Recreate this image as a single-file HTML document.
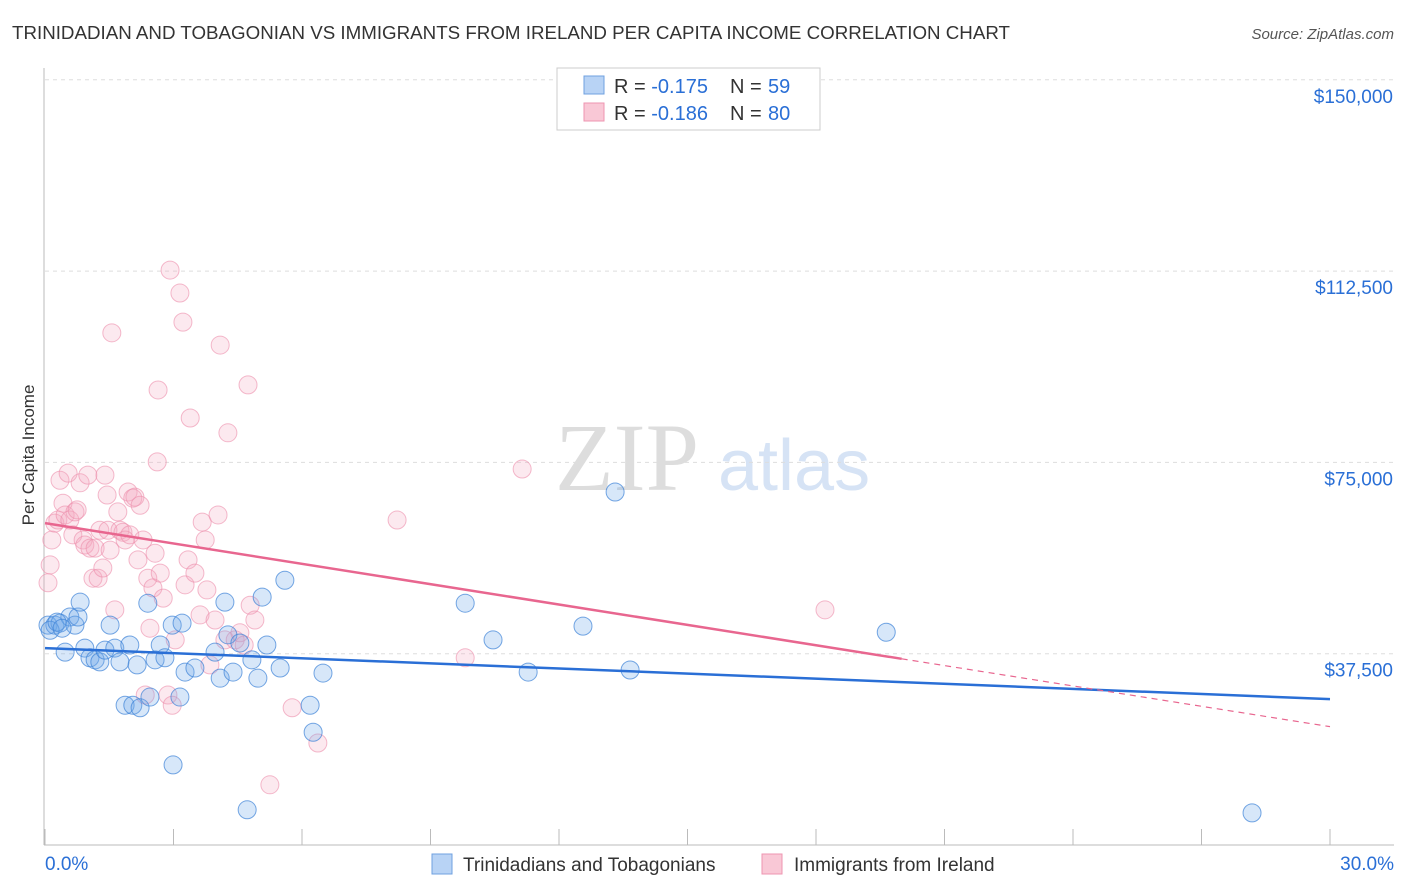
<!DOCTYPE html>
<html><head><meta charset="utf-8"><style>
body{margin:0;background:#fff;font-family:"Liberation Sans",sans-serif;}
#wrap{position:relative;width:1406px;height:892px;overflow:hidden;}
</style></head><body>
<div id="wrap">
<svg id="svg" width="1406" height="892" xmlns="http://www.w3.org/2000/svg">
<text x="12" y="39" font-size="18" fill="#333" textLength="998" lengthAdjust="spacingAndGlyphs">TRINIDADIAN AND TOBAGONIAN VS IMMIGRANTS FROM IRELAND PER CAPITA INCOME CORRELATION CHART</text>
<text x="1394" y="39" font-size="15" fill="#555" font-style="italic" text-anchor="end">Source: ZipAtlas.com</text>
<text x="34" y="455" font-size="17" fill="#333" text-anchor="middle" transform="rotate(-90 34 455)">Per Capita Income</text>
<text x="555" y="490" font-size="96" fill="#ddd" font-family="Liberation Serif,serif">ZIP</text>
<text x="718" y="490" font-size="72" fill="#d6e3f5">atlas</text>
<g id="grid"></g><g id="axes"></g><g id="pts"></g><g id="lines"></g>
<g>
<rect x="557" y="68" width="263" height="62" fill="#fff" stroke="#ccc"/>
<rect x="584" y="76" width="20" height="18" fill="#b8d3f5" stroke="#6fa0e0"/>
<text x="614" y="93" font-size="20" fill="#333">R = <tspan fill="#2a6fd6">-0.175</tspan></text>
<text x="730" y="93" font-size="20" fill="#333">N = <tspan fill="#2a6fd6" x="768">59</tspan></text>
<rect x="584" y="103" width="20" height="18" fill="#f9c8d6" stroke="#ee95b0"/>
<text x="614" y="120" font-size="20" fill="#333">R = <tspan fill="#2a6fd6">-0.186</tspan></text>
<text x="730" y="120" font-size="20" fill="#333">N = <tspan fill="#2a6fd6" x="768">80</tspan></text>
</g>
<g>
<rect x="432" y="854" width="20" height="20" fill="#b8d3f5" stroke="#6fa0e0"/>
<text x="463" y="871" font-size="19" fill="#333">Trinidadians and Tobagonians</text>
<rect x="762" y="854" width="20" height="20" fill="#f9c8d6" stroke="#ee95b0"/>
<text x="794" y="871" font-size="19" fill="#333">Immigrants from Ireland</text>
</g>
</svg></div>
<script>
const blueX=[0.07,0.23,0.35,0.47,0.58,0.70,0.77,0.82,0.93,1.05,1.17,1.28,1.40,1.52,1.63,1.75,1.87,1.98,2.05,2.15,2.22,2.40,2.45,2.57,2.69,2.80,2.97,2.99,3.15,3.20,3.27,3.50,3.97,4.09,4.20,4.27,4.39,4.55,4.72,4.83,4.97,5.07,5.18,5.49,5.60,6.19,6.26,6.49,9.81,10.46,11.28,12.56,13.31,13.66,19.64,28.18,0.12,0.28,0.40];
const blueY=[43.1,43.1,43.5,37.8,44.7,43.1,44.7,47.6,38.6,36.7,36.3,35.9,38.2,43.1,38.6,35.9,27.4,39.2,27.4,35.3,26.9,47.4,29.0,36.3,39.2,36.7,43.1,15.7,29.0,43.5,33.9,34.7,37.8,32.7,47.6,41.2,33.9,39.6,6.9,36.3,32.7,48.6,39.2,34.7,51.9,27.4,22.1,33.7,47.4,40.2,33.9,42.9,69.2,34.3,41.7,6.3,42.1,43.7,42.5];
const pinkX=[0.07,0.12,0.16,0.23,0.30,0.35,0.42,0.47,0.54,0.58,0.65,0.70,0.75,0.82,0.89,0.93,1.00,1.05,1.12,1.17,1.24,1.28,1.35,1.40,1.45,1.47,1.52,1.56,1.63,1.70,1.75,1.82,1.87,1.94,1.98,2.05,2.10,2.17,2.22,2.29,2.34,2.40,2.45,2.52,2.57,2.62,2.64,2.69,2.76,2.87,2.92,2.97,3.04,3.15,3.22,3.27,3.34,3.39,3.50,3.62,3.67,3.74,3.78,3.85,3.97,4.04,4.09,4.20,4.27,4.44,4.55,4.65,4.74,4.79,4.90,5.25,5.77,6.37,8.22,9.81,11.14,18.21];
const pinkY=[51.4,54.9,59.8,63.1,63.7,71.5,67.0,64.7,72.9,63.7,60.8,65.3,65.7,71.0,59.8,58.8,72.5,58.2,52.3,58.2,52.3,61.7,54.3,72.5,68.6,61.7,57.8,100.4,46.1,65.3,61.7,61.3,59.8,69.2,60.8,68.0,68.2,55.9,66.6,59.8,29.4,52.3,42.5,50.4,57.2,75.1,89.2,53.3,48.4,29.4,112.7,27.4,40.2,108.2,102.5,51.0,55.9,83.7,53.3,45.1,63.3,59.8,50.0,35.3,44.1,64.7,98.0,40.2,80.8,40.2,41.6,39.2,90.2,47.0,44.1,11.8,26.9,20.0,63.7,36.7,73.7,46.1];
const yTicks=[37.5,75,112.5,150];
const yTickLabels=["$37,500","$75,000","$112,500","$150,000"];
const xTicks=[0,3,6,9,12,15,18,21,24,27,30];
const blueFit=[38.6,28.6];
const pinkFit=[63.1,23.2];
const pinkSolidEnd=20.0;
const NS="http://www.w3.org/2000/svg";
const X=v=>45+v/30*1285, Y=v=>845-v/37.5*191.3;
function el(t,a,p){const e=document.createElementNS(NS,t);for(const k in a)e.setAttribute(k,a[k]);p.appendChild(e);return e;}
const grid=document.getElementById('grid'),axes=document.getElementById('axes'),pts=document.getElementById('pts'),lines=document.getElementById('lines');
yTicks.forEach((t,i)=>{
 const g=el('line',{x1:45,x2:1394,y1:Y(t),y2:Y(t),stroke:'#ddd','stroke-dasharray':'4 4'},grid);
 
 
 const tx=el('text',{x:1393,y:Y(t)+23,'font-size':19,fill:'#2a6fd6','text-anchor':'end'},axes);
 tx.textContent=yTickLabels[i];
 
 
});
const ax=el('line',{x1:44,x2:44,y1:68,y2:845,stroke:'#bbb'},axes);


const bx=el('line',{x1:44,x2:1394,y1:845,y2:845,stroke:'#bbb'},axes);


xTicks.forEach(t=>{const l=el('line',{x1:X(t),x2:X(t),y1:829,y2:845,stroke:'#bbb'},axes);
 
 });
[[0,'start',45],[30,'end',1394]].forEach(([v,a,x])=>{const t=el('text',{x:x,y:870,'font-size':19,fill:'#2a6fd6','text-anchor':a},axes);t.textContent=v.toFixed(1)+'%';
 
 });
function dots(xs,ys,fill,stroke,name){xs.forEach((x,i)=>{const c=el('circle',{cx:X(x),cy:Y(ys[i]),r:9,fill:fill,stroke:stroke,'stroke-width':1},pts);
 
 });}
dots(pinkX,pinkY,'rgba(244,166,190,0.25)','rgba(236,140,170,0.6)','ireland-point');
dots(blueX,blueY,'rgba(111,168,232,0.28)','rgba(60,130,215,0.7)','trinidad-point');
const bl=el('line',{x1:X(0),y1:Y(blueFit[0]),x2:X(30),y2:Y(blueFit[1]),stroke:'#2a6fd6','stroke-width':2.5},lines);


const pm=v=>pinkFit[0]+(pinkFit[1]-pinkFit[0])*v/30;
const pl=el('line',{x1:X(0),y1:Y(pm(0)),x2:X(pinkSolidEnd),y2:Y(pm(pinkSolidEnd)),stroke:'#e8668f','stroke-width':2.5},lines);


const pd=el('line',{x1:X(pinkSolidEnd),y1:Y(pm(pinkSolidEnd)),x2:X(30),y2:Y(pm(30)),stroke:'#e8668f','stroke-width':1.2,'stroke-dasharray':'6 5'},lines);


</script>
</body></html>
